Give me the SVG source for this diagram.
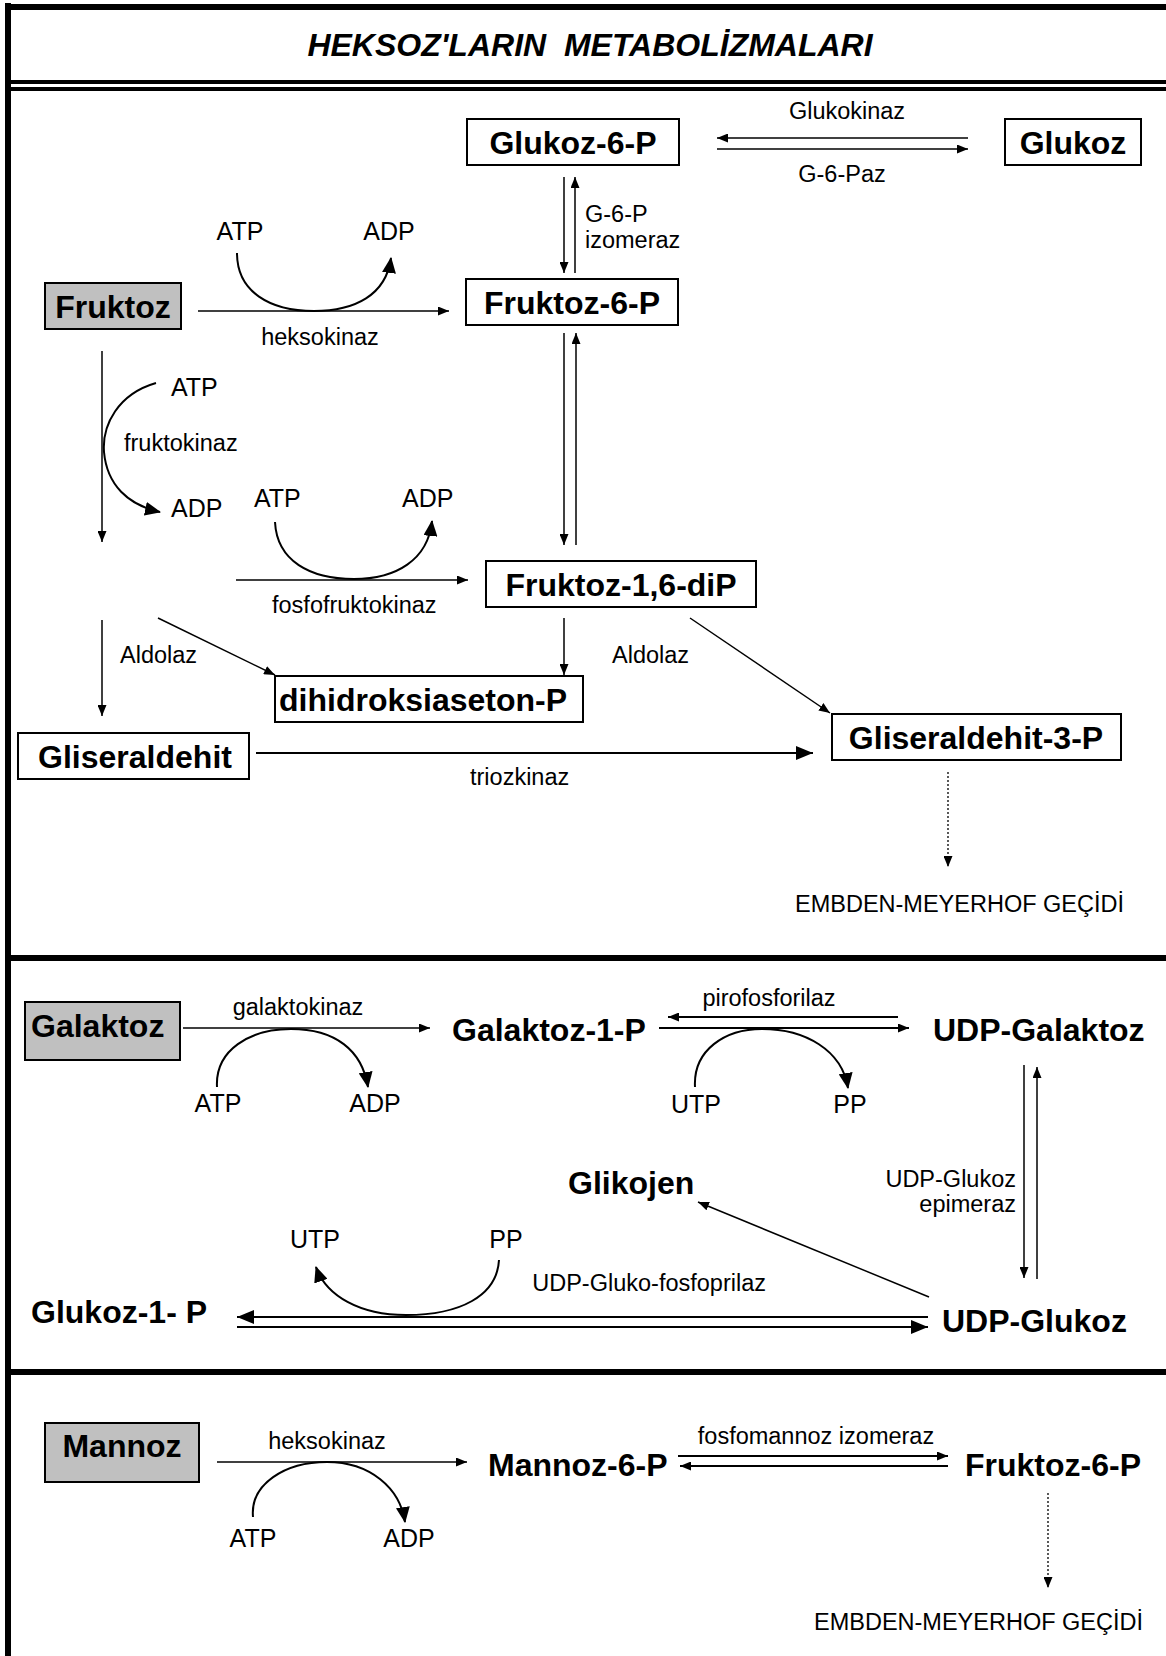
<svg xmlns="http://www.w3.org/2000/svg" width="1166" height="1656" viewBox="0 0 1166 1656">
<style>
.n{font-family:"Liberation Sans",Arial,sans-serif;font-weight:bold;font-size:32px;fill:#000}
.t{font-family:"Liberation Sans",Arial,sans-serif;font-weight:bold;font-style:italic;font-size:32px;fill:#000}
.l{font-family:"Liberation Sans",Arial,sans-serif;font-size:23.5px;fill:#000}
.c{font-family:"Liberation Sans",Arial,sans-serif;font-size:25px;fill:#000}
.box{fill:#fff;stroke:#000;stroke-width:2}
.grey{fill:#c0c0c0;stroke:#000;stroke-width:2}
.ln{stroke:#000;stroke-width:1.5;fill:none}
.lt{stroke:#000;stroke-width:2;fill:none}
.cv{stroke:#000;stroke-width:2;fill:none}
.dot{stroke:#000;stroke-width:1.3;fill:none;stroke-dasharray:2,2}
.frame{stroke:#000;fill:none}
</style>
<defs>
<marker id="ah" markerUnits="userSpaceOnUse" markerWidth="11" markerHeight="9" refX="11" refY="4.5" orient="auto"><path d="M0,0 L11,4.5 L0,9 z" fill="#000"/></marker>
<marker id="ahL" markerUnits="userSpaceOnUse" markerWidth="17" markerHeight="14" refX="17" refY="7" orient="auto"><path d="M0,0 L17,7 L0,14 z" fill="#000"/></marker>
<marker id="ahC" markerUnits="userSpaceOnUse" markerWidth="16" markerHeight="14" refX="15" refY="7" orient="auto"><path d="M0,0 L16,7 L0,14 z" fill="#000"/></marker>
</defs>

<g id="frame">
<line class="frame" x1="8" y1="3" x2="8" y2="1656" stroke-width="6"/>
<line class="frame" x1="5" y1="7" x2="1166" y2="7" stroke-width="6"/>
<line class="frame" x1="5" y1="82" x2="1166" y2="82" stroke-width="4"/>
<line class="frame" x1="5" y1="89" x2="1166" y2="89" stroke-width="4"/>
<line class="frame" x1="5" y1="958" x2="1166" y2="958" stroke-width="6"/>
<line class="frame" x1="5" y1="1372" x2="1166" y2="1372" stroke-width="6"/>
</g>

<text id="title" class="t" x="590" y="56" text-anchor="middle" xml:space="preserve">HEKSOZ'LARIN  METABOLİZMALARI</text>

<g id="connectors">
<!-- section 1 -->
<line class="ln" x1="968" y1="138" x2="717" y2="138" marker-end="url(#ah)"/>
<line class="ln" x1="717" y1="149" x2="968" y2="149" marker-end="url(#ah)"/>
<line class="ln" x1="564" y1="177" x2="564" y2="273" marker-end="url(#ah)"/>
<line class="ln" x1="575" y1="273" x2="575" y2="177" marker-end="url(#ah)"/>
<line class="ln" x1="198" y1="311" x2="449" y2="311" marker-end="url(#ah)"/>
<path class="cv" d="M237,253 C237,292 270,311 314,311 C355,311 386,295 391,258" marker-end="url(#ahC)"/>
<line class="ln" x1="564" y1="333" x2="564" y2="545" marker-end="url(#ah)"/>
<line class="ln" x1="576" y1="545" x2="576" y2="333" marker-end="url(#ah)"/>
<line class="ln" x1="102" y1="351" x2="102" y2="542" marker-end="url(#ah)"/>
<path class="cv" d="M156,383 C118,394 102,425 104,452 C107,485 128,505 160,512" marker-end="url(#ahC)"/>
<line class="ln" x1="236" y1="580" x2="468" y2="580" marker-end="url(#ah)"/>
<path class="cv" d="M275,522 C277,561 310,579 354,579 C396,579 428,560 432,521" marker-end="url(#ahC)"/>
<line class="ln" x1="564" y1="618" x2="564" y2="675" marker-end="url(#ah)"/>
<line class="ln" x1="690" y1="618" x2="830" y2="713" marker-end="url(#ah)"/>
<line class="ln" x1="158" y1="618" x2="275" y2="675" marker-end="url(#ah)"/>
<line class="ln" x1="102" y1="620" x2="102" y2="716" marker-end="url(#ah)"/>
<line class="lt" x1="256" y1="753" x2="813" y2="753" marker-end="url(#ahL)"/>
<line class="dot" x1="948" y1="772" x2="948" y2="867" marker-end="url(#ah)"/>
<!-- section 2 -->
<line class="ln" x1="183" y1="1028" x2="430" y2="1028" marker-end="url(#ah)"/>
<path class="cv" d="M217,1087 C215,1050 250,1029 291,1029 C335,1029 362,1050 368,1087" marker-end="url(#ahC)"/>
<line class="lt" x1="898" y1="1017" x2="668" y2="1017" marker-end="url(#ah)"/>
<line class="lt" x1="659" y1="1028" x2="909" y2="1028" marker-end="url(#ah)"/>
<path class="cv" d="M695,1087 C693,1050 725,1029 762,1029 C805,1029 842,1050 848,1088" marker-end="url(#ahC)"/>
<line class="ln" x1="1024" y1="1065" x2="1024" y2="1278" marker-end="url(#ah)"/>
<line class="ln" x1="1037" y1="1279" x2="1037" y2="1067" marker-end="url(#ah)"/>
<line class="ln" x1="929" y1="1297" x2="698" y2="1202" marker-end="url(#ah)"/>
<line class="lt" x1="928" y1="1317" x2="237" y2="1317" marker-end="url(#ahL)"/>
<line class="lt" x1="237" y1="1327" x2="928" y2="1327" marker-end="url(#ahL)"/>
<path class="cv" d="M499,1260 C497,1296 460,1315 406,1315 C360,1315 326,1296 316,1267" marker-end="url(#ahC)"/>
<!-- section 3 -->
<line class="ln" x1="217" y1="1462" x2="467" y2="1462" marker-end="url(#ah)"/>
<path class="cv" d="M253,1517 C250,1484 285,1462 327,1462 C370,1462 400,1488 405,1522" marker-end="url(#ahC)"/>
<line class="lt" x1="678" y1="1456" x2="948" y2="1456" marker-end="url(#ah)"/>
<line class="lt" x1="948" y1="1466" x2="680" y2="1466" marker-end="url(#ah)"/>
<line class="dot" x1="1048" y1="1493" x2="1048" y2="1588" marker-end="url(#ah)"/>
</g>

<g id="labels">
<text class="l" x="847" y="119" text-anchor="middle">Glukokinaz</text>
<text class="l" x="842" y="182" text-anchor="middle">G-6-Paz</text>
<text class="l" x="585" y="222">G-6-P</text>
<text class="l" x="585" y="248">izomeraz</text>
<text class="c" x="240" y="240" text-anchor="middle">ATP</text>
<text class="c" x="389" y="240" text-anchor="middle">ADP</text>
<text class="l" x="320" y="345" text-anchor="middle">heksokinaz</text>
<text class="c" x="171" y="396">ATP</text>
<text class="l" x="124" y="451">fruktokinaz</text>
<text class="c" x="171" y="517">ADP</text>
<text class="c" x="254" y="507">ATP</text>
<text class="c" x="402" y="507">ADP</text>
<text class="l" x="272" y="613">fosfofruktokinaz</text>
<text class="l" x="120" y="663">Aldolaz</text>
<text class="l" x="612" y="663">Aldolaz</text>
<text class="l" x="470" y="785">triozkinaz</text>
<text class="l" x="795" y="912">EMBDEN-MEYERHOF GEÇİDİ</text>
<text class="l" x="298" y="1015" text-anchor="middle">galaktokinaz</text>
<text class="c" x="218" y="1112" text-anchor="middle">ATP</text>
<text class="c" x="375" y="1112" text-anchor="middle">ADP</text>
<text class="l" x="769" y="1006" text-anchor="middle">pirofosforilaz</text>
<text class="c" x="696" y="1113" text-anchor="middle">UTP</text>
<text class="c" x="850" y="1113" text-anchor="middle">PP</text>
<text class="l" x="1016" y="1187" text-anchor="end">UDP-Glukoz</text>
<text class="l" x="1016" y="1212" text-anchor="end">epimeraz</text>
<text class="c" x="315" y="1248" text-anchor="middle">UTP</text>
<text class="c" x="506" y="1248" text-anchor="middle">PP</text>
<text class="l" x="766" y="1291" text-anchor="end">UDP-Gluko-fosfoprilaz</text>
<text class="l" x="327" y="1449" text-anchor="middle">heksokinaz</text>
<text class="c" x="253" y="1547" text-anchor="middle">ATP</text>
<text class="c" x="409" y="1547" text-anchor="middle">ADP</text>
<text class="l" x="816" y="1444" text-anchor="middle">fosfomannoz izomeraz</text>
<text class="l" x="814" y="1630">EMBDEN-MEYERHOF GEÇİDİ</text>
</g>

<g id="n-glukoz6p"><rect class="box" x="467" y="119" width="212" height="46"/><text class="n" x="573" y="154" text-anchor="middle">Glukoz-6-P</text></g>
<g id="n-glukoz"><rect class="box" x="1005" y="119" width="136" height="46"/><text class="n" x="1073" y="154" text-anchor="middle">Glukoz</text></g>
<g id="n-fruktoz"><rect class="grey" x="45" y="283" width="136" height="46"/><text class="n" x="113" y="318" text-anchor="middle">Fruktoz</text></g>
<g id="n-fruktoz6p"><rect class="box" x="466" y="279" width="212" height="46"/><text class="n" x="572" y="314" text-anchor="middle">Fruktoz-6-P</text></g>
<g id="n-fruktoz16dip"><rect class="box" x="486" y="561" width="270" height="46"/><text class="n" x="621" y="596" text-anchor="middle">Fruktoz-1,6-diP</text></g>
<g id="n-dhap"><rect class="box" x="275" y="676" width="308" height="46"/><text class="n" x="279" y="711">dihidroksiaseton-P</text></g>
<g id="n-gliseraldehit"><rect class="box" x="18" y="733" width="231" height="46"/><text class="n" x="135" y="768" text-anchor="middle">Gliseraldehit</text></g>
<g id="n-gliseraldehit3p"><rect class="box" x="832" y="714" width="289" height="46"/><text class="n" x="976" y="749" text-anchor="middle">Gliseraldehit-3-P</text></g>
<g id="n-galaktoz"><rect class="grey" x="25" y="1002" width="155" height="58"/><text class="n" x="31" y="1037">Galaktoz</text></g>
<g id="n-galaktoz1p"><text class="n" x="452" y="1041">Galaktoz-1-P</text></g>
<g id="n-udpgalaktoz"><text class="n" x="933" y="1041">UDP-Galaktoz</text></g>
<g id="n-glikojen"><text class="n" x="568" y="1194">Glikojen</text></g>
<g id="n-glukoz1p"><text class="n" x="31" y="1323">Glukoz-1- P</text></g>
<g id="n-udpglukoz"><text class="n" x="942" y="1332">UDP-Glukoz</text></g>
<g id="n-mannoz"><rect class="grey" x="45" y="1423" width="154" height="59"/><text class="n" x="122" y="1457" text-anchor="middle">Mannoz</text></g>
<g id="n-mannoz6p"><text class="n" x="488" y="1476">Mannoz-6-P</text></g>
<g id="n-fruktoz6p-b"><text class="n" x="965" y="1476">Fruktoz-6-P</text></g>
</svg>
